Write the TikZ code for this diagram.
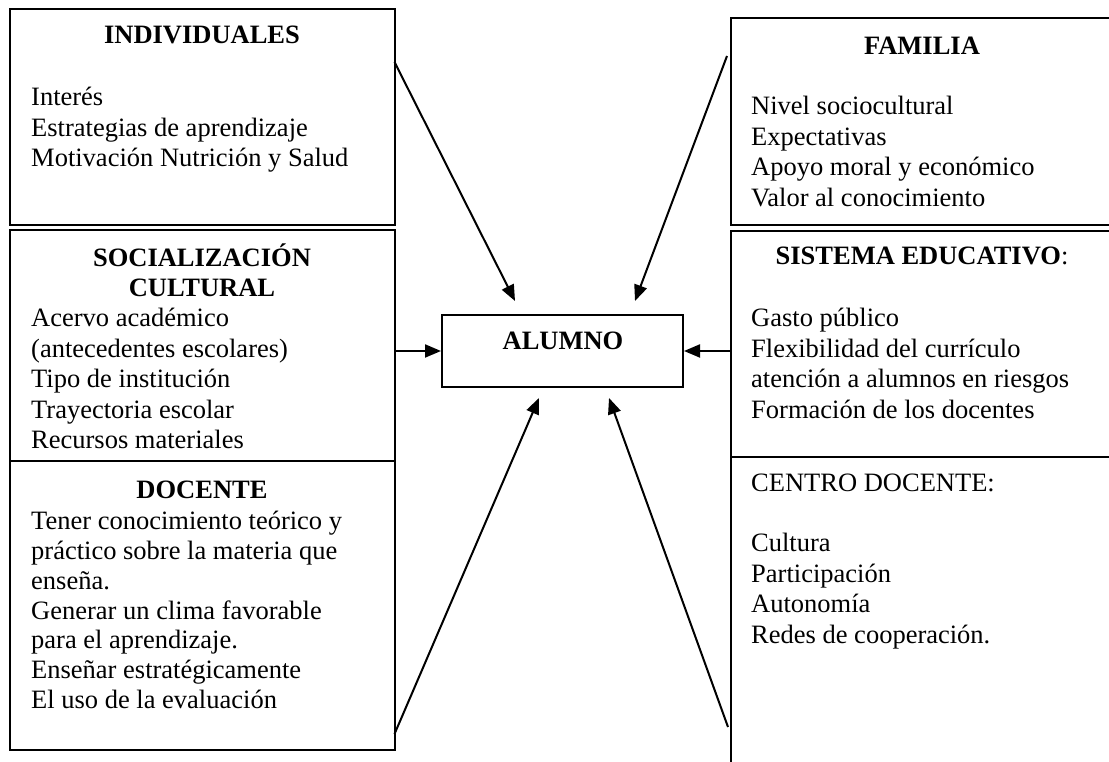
\documentclass[tikz,border=0pt]{standalone}
\usepackage{fontspec}
\setmainfont{Liberation Serif}
\usetikzlibrary{arrows.meta}

\tikzset{
  factor/.style={draw, line width=2pt, inner sep=0pt},
  titulo/.style={font=\fontsize{26.5}{30}\selectfont\bfseries, anchor=base, align=center, inner sep=0pt},
  lista/.style={font=\fontsize{26.5}{30.5}\selectfont, anchor=base west, align=left, inner sep=0pt},
  flecha/.style={-{Triangle[length=16pt,width=13pt]}, line width=2pt}
}

\begin{document}
\begin{tikzpicture}[x=1pt, y=1pt]

            \useasboundingbox (0,0) rectangle (1109,762);

            % boxes on the left
            \node (indiv) at (202.25, 645) [factor, minimum width=384.5pt, minimum height=216pt] {};
            \node (social) at (202.25, 416.5) [factor, minimum width=384.5pt, minimum height=231pt] {};
            \node (docente) at (202.25, 156.5) [factor, minimum width=384.5pt, minimum height=289pt] {};

            % boxes on the right
            \node (familia) at (922, 640.5) [factor, minimum width=382pt, minimum height=207pt] {};
            \node (sistema) at (922, 418) [factor, minimum width=382pt, minimum height=226pt] {};
            \node (centro) at (922, 138.5) [factor, minimum width=382pt, minimum height=333pt] {};

            % centre
            \node (alumno) at (562.5, 411) [factor, minimum width=241pt, minimum height=72pt] {};
            \node (alumno-t) at (563, 412) [titulo] {ALUMNO};

            % texts (base anchor = last line)
            \node (indiv-t) at (202, 718) [titulo] {INDIVIDUALES};
            \node (indiv-l) at (31, 595) [lista] {Interés\\Estrategias de aprendizaje\\Motivación Nutrición y Salud};

            \node (social-t) at (202, 465.3) [titulo] {SOCIALIZACIÓN\\CULTURAL};
            \node (social-l) at (31, 313.3) [lista] {Acervo académico\\(antecedentes escolares)\\Tipo de institución\\Trayectoria escolar\\Recursos materiales};

            \node (docente-t) at (202, 263.7) [titulo] {DOCENTE};
            \node (docente-l) at (31, 53.8) [lista, font=\fontsize{26.5}{29.7}\selectfont] {Tener conocimiento teórico y\\práctico sobre la materia que\\enseña.\\Generar un clima favorable\\para el aprendizaje.\\Enseñar estratégicamente\\El uso de la evaluación};

            \node (familia-t) at (922, 707.7) [titulo] {FAMILIA};
            \node (familia-l) at (751, 555.5) [lista] {Nivel sociocultural\\Expectativas\\Apoyo moral y económico\\Valor al conocimiento};

            \node (sistema-t) at (922, 497) [titulo, font=\fontsize{26.5}{30}\selectfont\mdseries] {\textbf{SISTEMA EDUCATIVO}:};
            \node (sistema-l) at (751, 343.8) [lista] {Gasto público\\Flexibilidad del currículo\\atención a alumnos en riesgos\\Formación de los docentes};

            \node (centro-t) at (751, 270.3) [lista] {CENTRO DOCENTE:};
            \node (centro-l) at (751, 118.8) [lista] {Cultura\\Participación\\Autonomía\\Redes de cooperación.};

            % arrow ends
            \coordinate (indiv-s) at (394.5, 700);
            \coordinate (indiv-e) at (515, 461);
            \coordinate (familia-s) at (727, 706);
            \coordinate (familia-e) at (635, 461);
            \coordinate (docente-s) at (394.5, 28);
            \coordinate (docente-e) at (539, 364);
            \coordinate (centro-s) at (728, 35);
            \coordinate (centro-e) at (609, 364);

            \draw[flecha] (indiv-s) -- (indiv-e);
            \draw[flecha] (familia-s) -- (familia-e);
            \draw[flecha] (social.east |- alumno.west) -- (alumno.west);
            \draw[flecha] (sistema.west |- alumno.east) -- (alumno.east);
            \draw[flecha] (docente-s) -- (docente-e);
            \draw[flecha] (centro-s) -- (centro-e);

        \end{tikzpicture}
\end{document}
